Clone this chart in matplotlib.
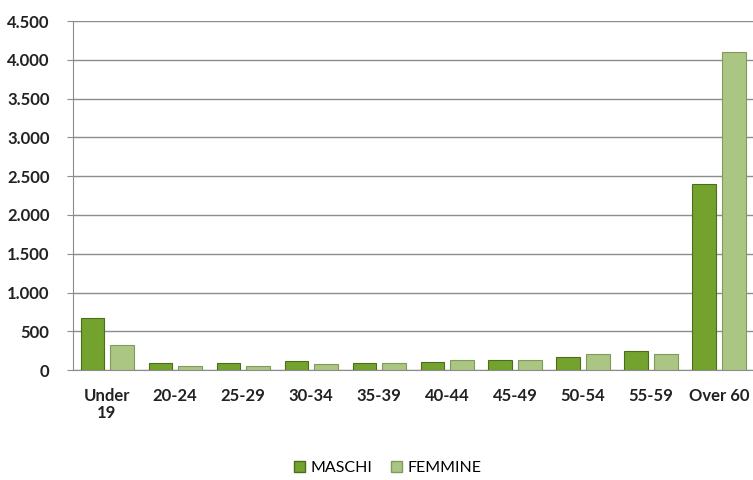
import matplotlib.pyplot as plt
import numpy as np
from matplotlib.ticker import FuncFormatter
from matplotlib.patches import Patch

categories = ["Under\n19", "20-24", "25-29", "30-34", "35-39", "40-44",
              "45-49", "50-54", "55-59", "Over 60"]
maschi = [670, 90, 90, 115, 90, 105, 130, 175, 250, 2400]
femmine = [325, 55, 55, 75, 85, 130, 130, 210, 205, 4100]

col_m = "#74a22e"
col_f = "#abc682"

fig = plt.figure(figsize=(7.53, 4.8), dpi=100)
ax = fig.add_axes([0.097, 0.229, 0.903, 0.727])

x = np.arange(len(categories))
w = 0.35
ax.bar(x - 0.215, maschi, w, color=col_m, edgecolor="#4d6d1c", linewidth=0.8,
       zorder=3)
ax.bar(x + 0.215, femmine, w, color=col_f, edgecolor="#7f9a5a", linewidth=0.8,
       zorder=3)

ax.set_xlim(-0.5, len(categories) - 0.5)
ax.set_ylim(0, 4500)
ax.set_yticks(np.arange(0, 4501, 500))
ax.yaxis.set_major_formatter(FuncFormatter(lambda v, p: f"{int(v):,}".replace(",", ".")))
ax.grid(axis="y", color="#8c8c8c", linewidth=1, zorder=0)

ax.set_xticks(x)
ax.set_xticklabels(categories, fontsize=12, fontweight="bold", family="Lato",
                   color="#222222", linespacing=1.1)
for lab in ax.get_yticklabels():
    lab.set_fontsize(12)
    lab.set_fontweight("bold")
    lab.set_family("Lato")
    lab.set_color("#222222")

ax.tick_params(axis="x", length=0, pad=13)
ax.tick_params(axis="y", length=4, color="#8c8c8c", pad=13)
for s in ["top", "right"]:
    ax.spines[s].set_visible(False)
ax.spines["left"].set_color("#8c8c8c")
ax.spines["bottom"].set_color("#8c8c8c")

handles = [Patch(facecolor=col_m, edgecolor="#4d6d1c", label="MASCHI"),
           Patch(facecolor=col_f, edgecolor="#7f9a5a", label="FEMMINE")]
fig.legend(handles=handles, loc="center", bbox_to_anchor=(0.515, 0.025), ncol=2,
           frameon=False, handlelength=0.7, handleheight=0.7,
           handletextpad=0.3, columnspacing=1.2, prop={"family": "Lato", "size": 11.5})

fig.savefig("out.png", dpi=100)
